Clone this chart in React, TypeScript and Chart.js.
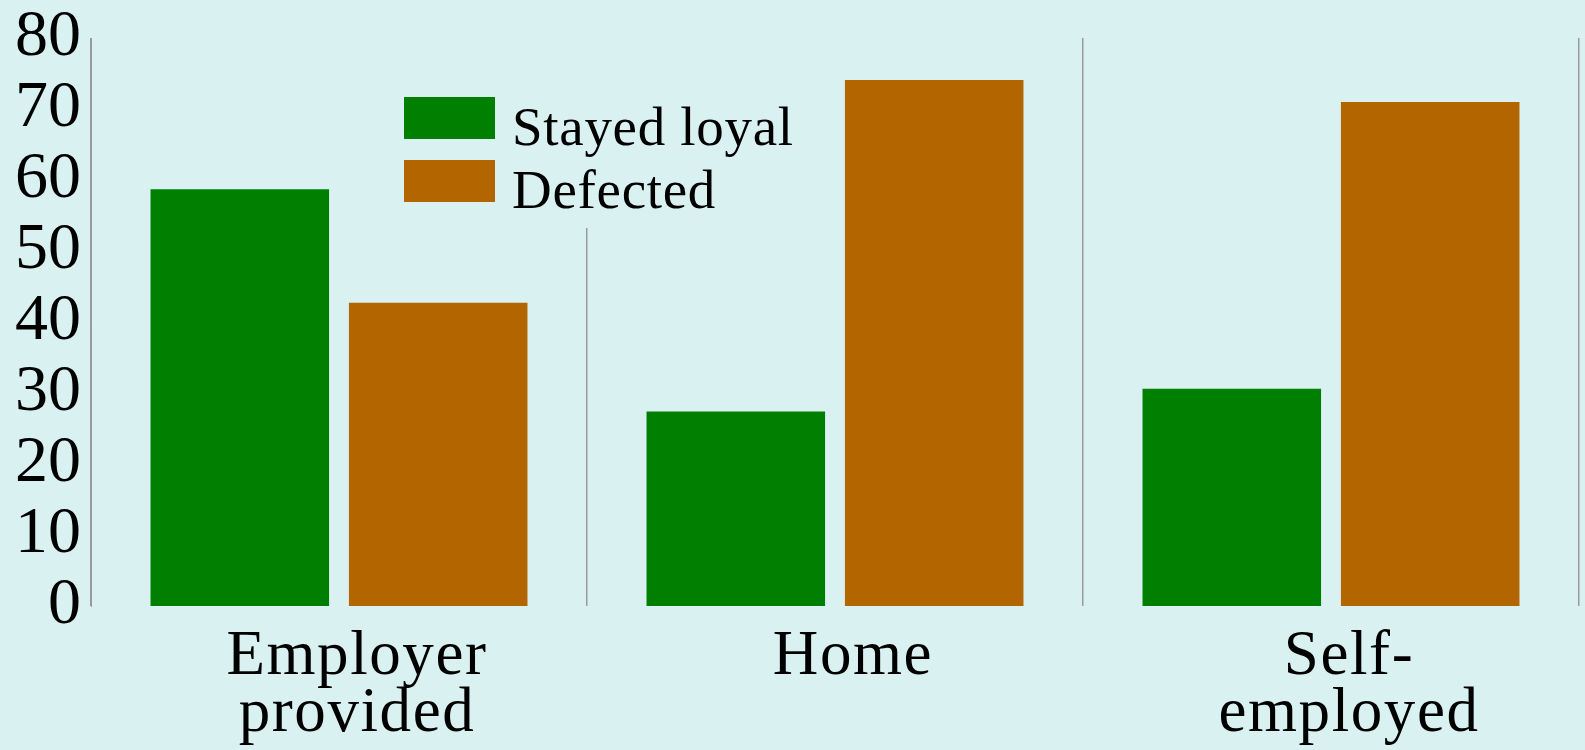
import React, { useEffect, useRef } from "react";
import { Chart, registerables } from "chart.js";

Chart.register(...registerables);

const categories: string[][] = [["Employer", "provided"], ["Home"], ["Self-", "employed"]];
const seriesNames = ["Stayed loyal", "Defected"];
const stayedLoyal = [58.7, 27.4, 30.6];
const defected = [42.7, 74.1, 71.0];
const yTicks = [0, 10, 20, 30, 40, 50, 60, 70, 80];

const BG = "#d9f2f1";
const GREEN = "#007f00";
const ORANGE = "#b36500";
const FONT = "'Liberation Serif', 'Times New Roman', serif";

const legendPlugin = {
  id: "insideLegend",
  afterDraw(chart: any) {
    const ctx = chart.ctx;
    ctx.save();
    ctx.fillStyle = BG;
    ctx.fillRect(395, 30, 410, 198);
    const boxX = 404, boxW = 91, boxH = 42;
    const rows = [97, 160];
    chart.data.datasets.forEach((ds: any, i: number) => {
      ctx.fillStyle = ds.backgroundColor;
      ctx.fillRect(boxX, rows[i], boxW, boxH);
      ctx.fillStyle = "#000";
      ctx.font = `55px ${FONT}`;
      (ctx as any).letterSpacing = "0.7px";
      ctx.textBaseline = "alphabetic";
      ctx.textAlign = "left";
      ctx.fillText(ds.label, 512, rows[i] + 48);
    });
    ctx.restore();
  },
};

export default function App() {
  const ref = useRef<HTMLCanvasElement>(null);
  useEffect(() => {
    document.body.style.margin = "0";
    const chart = new Chart(ref.current!, {
      type: "bar",
      data: {
        labels: categories,
        datasets: [
          { label: seriesNames[0], data: stayedLoyal, backgroundColor: GREEN },
          { label: seriesNames[1], data: defected, backgroundColor: ORANGE },
        ],
      },
      options: {
        animation: false,
        responsive: false,
        maintainAspectRatio: false,
        layout: { padding: { top: 0, right: 6, left: 0, bottom: 0 } },
        plugins: { legend: { display: false }, tooltip: { enabled: false } },
        scales: {
          x: {
            offset: true,
            grid: { offset: true, display: true, color: "#999999", lineWidth: 1.5, drawTicks: false },
            border: { display: false },
            ticks: {
              color: "#000",
              font: { family: FONT, size: 63, lineHeight: 0.9 },
              padding: 23,
              maxRotation: 0,
              autoSkip: false,
            },
            afterFit(scale: any) {
              scale.height = 144;
            },
            afterUpdate(scale: any) {
              if (scale.__wrapped) return;
              scale.__wrapped = true;
              const orig = scale.drawLabels.bind(scale);
              scale.drawLabels = (area: any) => {
                const ctx = scale.ctx;
                ctx.save();
                ctx.translate(18, 0);
                (ctx as any).letterSpacing = "1.6px";
                orig(area);
                ctx.restore();
              };
            },
          },
          y: {
            min: 0,
            max: 80,
            afterBuildTicks(scale: any) {
              scale.ticks = yTicks.map((v) => ({ value: v }));
            },
            grid: { display: false, drawTicks: false },
            border: { display: true, color: "#999999", width: 1 },
            ticks: {
              color: "#000",
              font: { family: FONT, size: 66, lineHeight: 0.85 },
              padding: 10,
              crossAlign: "near",
              autoSkip: false,
            },
            afterFit(scale: any) {
              scale.width = 91;
            },
          },
        },
      },
      plugins: [legendPlugin],
    });
    return () => chart.destroy();
  }, []);
  return (
    <div style={{ width: 1585, height: 750, background: BG }}>
      <canvas ref={ref} width={1585} height={750} style={{ display: "block" }} />
    </div>
  );
}
